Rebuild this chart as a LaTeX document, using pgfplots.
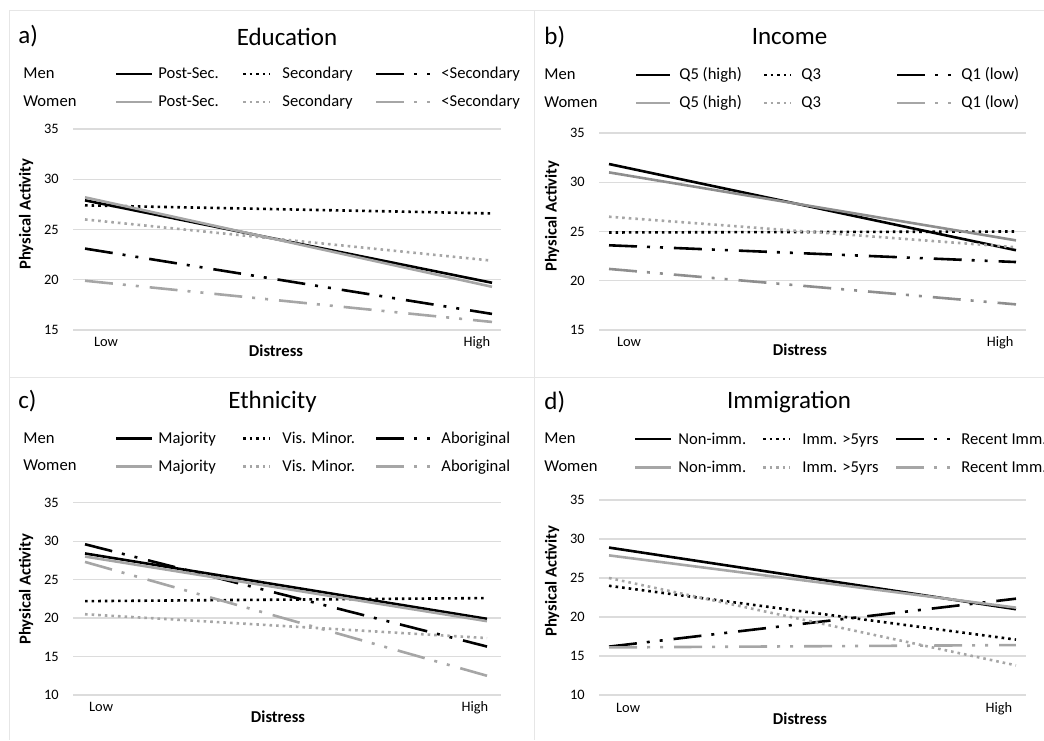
\documentclass[border=0pt]{standalone}
\usepackage{fontspec}
\setmainfont{Carlito}
\usepackage{pgfplots}
\pgfplotsset{compat=1.18}
\usepackage{pgfplotstable}

\definecolor{wgray}{HTML}{A6A6A6}
\definecolor{wgrayd}{HTML}{8E8E8E}
\definecolor{gridc}{HTML}{DCDCDC}
\definecolor{framec}{HTML}{E6E6E6}
\newcommand\fs[1]{\fontsize{#1}{#1}\selectfont}

\tikzset{
 solidl/.style={line width=1.3pt},
 dotl/.style={line width=1.3pt, dash pattern=on 1.3pt off 2pt},
 ddotl/.style={line width=1.3pt, dash pattern=on 14pt off 5pt on 1.5pt off 5pt on 1.5pt off 5.5pt},
}

\pgfplotstableread{
x  mA   mB   mC   wA   wB   wC
0  27.9 27.4 23.1 28.2 26.0 19.9
1  19.7 26.6 16.6 19.3 21.9 15.8
}\tabA
\pgfplotstableread{
x  mA    mB   mC   wA   wB   wC
0  31.85 24.9 23.6 31.0 26.5 21.2
1  23.1  25.0 21.9 24.1 23.4 17.6
}\tabB
\pgfplotstableread{
x  mA   mB   mC   wA   wB   wC
0  28.4 22.2 29.6 28.0 20.5 27.3
1  19.9 22.6 16.3 19.6 17.4 12.5
}\tabC
\pgfplotstableread{
x  mA   mB   mC    wA   wB   wC
0  28.9 24.0 16.2  27.9 25.0 16.1
1  21.0 17.1 22.35 21.2 13.8 16.4
}\tabD

\pgfplotsset{panel/.style={
  scale only axis, anchor=south west,
  axis line style={draw=none},
  ymajorgrids, grid style={gridc, line width=0.6pt},
  major tick length=0pt, tick style={draw=none},
  xticklabels={Low,High},
  tick label style={font=\fs{7.2}},
  /pgf/number format/assume math mode=true,
  yticklabel style={anchor=east,inner sep=0pt,xshift=-7pt},
  xticklabel style={anchor=base,inner sep=0pt},
  clip=false}}

\begin{document}
\begin{tikzpicture}
\path[use as bounding box] (0,0) rectangle (522pt,370pt);

% ---------- a) Education
\begin{axis}[panel, at={(36.5pt,205pt)}, width=214pt, height=100.5pt,
  xmin=-0.0295, xmax=1.0221, ymin=15, ymax=35, ytick={15,20,...,35},
  xtick={0.0516,0.963}, xticklabel style={yshift=-8.5pt}]
\addplot[black, solidl] table[x=x,y=mA]{\tabA};
\addplot[black, dotl] table[x=x,y=mB]{\tabA};
\addplot[black, ddotl] table[x=x,y=mC]{\tabA};
\addplot[wgray, solidl] table[x=x,y=wA]{\tabA};
\addplot[wgray, dotl] table[x=x,y=wB]{\tabA};
\addplot[wgray, ddotl] table[x=x,y=wC]{\tabA};
\end{axis}

% ---------- b) Income
\begin{axis}[panel, at={(299.5pt,205pt)}, width=213.5pt, height=98.5pt,
  xmin=-0.0246, xmax=1.0246, ymin=15, ymax=35, ytick={15,20,...,35},
  xtick={0.049,0.961}, xticklabel style={yshift=-8.3pt}]
\addplot[black, solidl] table[x=x,y=mA]{\tabB};
\addplot[black, dotl] table[x=x,y=mB]{\tabB};
\addplot[black, ddotl] table[x=x,y=mC]{\tabB};
\addplot[wgrayd, solidl] table[x=x,y=wA]{\tabB};
\addplot[wgray, dotl] table[x=x,y=wB]{\tabB};
\addplot[wgrayd, ddotl] table[x=x,y=wC]{\tabB};
\end{axis}

% ---------- c) Ethnicity
\begin{axis}[panel, at={(36.5pt,22.5pt)}, width=214pt, height=96.15pt,
  xmin=-0.0299, xmax=1.0348, ymin=10, ymax=35, ytick={10,15,...,35},
  xtick={0.04,0.97}, xticklabel style={yshift=-8.3pt}]
\addplot[black, solidl] table[x=x,y=mA]{\tabC};
\addplot[black, dotl] table[x=x,y=mB]{\tabC};
\addplot[black, ddotl] table[x=x,y=mC]{\tabC};
\addplot[wgray, solidl] table[x=x,y=wA]{\tabC};
\addplot[wgray, dotl] table[x=x,y=wB]{\tabC};
\addplot[wgray, ddotl] table[x=x,y=wC]{\tabC};
\end{axis}

% ---------- d) Immigration
\begin{axis}[panel, at={(299.5pt,22.5pt)}, width=213.5pt, height=97.5pt,
  xmin=-0.0246, xmax=1.0246, ymin=10, ymax=35, ytick={10,15,...,35},
  xtick={0.047,0.958}, xticklabel style={yshift=-8.8pt}]
\addplot[black, solidl] table[x=x,y=mA]{\tabD};
\addplot[black, dotl] table[x=x,y=mB]{\tabD};
\addplot[black, ddotl] table[x=x,y=mC]{\tabD};
\addplot[wgray, solidl] table[x=x,y=wA]{\tabD};
\addplot[wgray, dotl] table[x=x,y=wB]{\tabD};
\addplot[wgray, ddotl] table[x=x,y=wC]{\tabD};
\end{axis}

\begin{scope}[yshift=370pt, x=0.5pt, y=-0.5pt]
% frames
\draw[framec, line width=0.5pt] (9,11) -- (1044,11);
\draw[framec, line width=0.5pt] (9,11) -- (9,740);
\draw[framec, line width=0.5pt] (534.5,11) -- (534.5,740);
\draw[framec, line width=0.5pt] (9,378) -- (1044,378);

% ===== panel a texts
\node[anchor=base west, font=\fs{12.5}, inner sep=0pt] at (18,44) {a)};
\node[anchor=base, font=\fs{12.5}, inner sep=0pt] at (287,46) {Education};
\node[anchor=base west, font=\fs{8.3}, inner sep=0pt] at (23,79) {Men};
\node[anchor=base west, font=\fs{8.3}, inner sep=0pt] at (23,107) {Women};
\draw[black, solidl] (116,74) -- (152,74);
\draw[black, dotl] (243,74) -- (270,74);
\draw[black, ddotl] (376,74) -- (438,74);
\draw[wgray, solidl] (116,102) -- (152,102);
\draw[wgray, dotl] (243,102) -- (270,102);
\draw[wgray, ddotl] (376,102) -- (438,102);
\begin{scope}[every node/.style={anchor=base west, font=\fs{8.3}, inner sep=0pt}]
\node at (158,79) {Post-Sec.};
\node at (282,79) {Secondary};
\node at (441,79) {<Secondary};
\node at (158,107) {Post-Sec.};
\node at (282,107) {Secondary};
\node at (441,107) {<Secondary};
\end{scope}
\node[rotate=90, font=\bfseries\fs{8.3}, inner sep=0pt] at (26,214) {Physical Activity};
\node[anchor=base, font=\bfseries\fs{8.3}, inner sep=0pt] at (276,357) {Distress};

% ===== panel b texts
\node[anchor=base west, font=\fs{12.5}, inner sep=0pt] at (544,45) {b)};
\node[anchor=base, font=\fs{12.5}, inner sep=0pt] at (789.5,45) {Income};
\node[anchor=base west, font=\fs{8.3}, inner sep=0pt] at (544,80) {Men};
\node[anchor=base west, font=\fs{8.3}, inner sep=0pt] at (544,108) {Women};
\draw[black, solidl] (636,75) -- (670,75);
\draw[black, dotl] (764,75) -- (791,75);
\draw[black, ddotl] (897,75) -- (959,75);
\draw[wgray, solidl] (636,103) -- (670,103);
\draw[wgray, dotl] (764,103) -- (791,103);
\draw[wgray, ddotl] (897,103) -- (959,103);
\begin{scope}[every node/.style={anchor=base west, font=\fs{8.3}, inner sep=0pt}]
\node at (679,80) {Q5 (high)};
\node at (801,80) {Q3};
\node at (961,80) {Q1 (low)};
\node at (679,108) {Q5 (high)};
\node at (801,108) {Q3};
\node at (961,108) {Q1 (low)};
\end{scope}
\node[rotate=90, font=\bfseries\fs{8.3}, inner sep=0pt] at (552,216) {Physical Activity};
\node[anchor=base, font=\bfseries\fs{8.3}, inner sep=0pt] at (800,356) {Distress};

% ===== panel c texts
\node[anchor=base west, font=\fs{12.5}, inner sep=0pt] at (18,409) {c)};
\node[anchor=base, font=\fs{12.5}, inner sep=0pt] at (272.5,409) {Ethnicity};
\node[anchor=base west, font=\fs{8.3}, inner sep=0pt] at (23,443) {Men};
\node[anchor=base west, font=\fs{8.3}, inner sep=0pt] at (23,470.5) {Women};
\draw[black, solidl] (116,438.3) -- (152,438.3);
\draw[black, dotl] (243,438.3) -- (270,438.3);
\draw[black, ddotl] (376,438.3) -- (438,438.3);
\draw[wgray, solidl] (116,466.7) -- (152,466.7);
\draw[wgray, dotl] (243,466.7) -- (270,466.7);
\draw[wgray, ddotl] (376,466.7) -- (438,466.7);
\begin{scope}[every node/.style={anchor=base west, font=\fs{8.3}, inner sep=0pt}]
\node at (158,443) {Majority};
\node at (282,443) {Vis. Minor.};
\node at (441,443) {Aboriginal};
\node at (158,471) {Majority};
\node at (282,471) {Vis. Minor.};
\node at (441,471) {Aboriginal};
\end{scope}
\node[rotate=90, font=\bfseries\fs{8.3}, inner sep=0pt] at (26,589) {Physical Activity};
\node[anchor=base, font=\bfseries\fs{8.3}, inner sep=0pt] at (278,722) {Distress};

% ===== panel d texts
\node[anchor=base west, font=\fs{12.5}, inner sep=0pt] at (544,410) {d)};
\node[anchor=base, font=\fs{12.5}, inner sep=0pt] at (789,409) {Immigration};
\node[anchor=base west, font=\fs{8.3}, inner sep=0pt] at (544,443.5) {Men};
\node[anchor=base west, font=\fs{8.3}, inner sep=0pt] at (544,471) {Women};
\draw[black, solidl] (635,439) -- (671,439);
\draw[black, dotl] (763,439) -- (790,439);
\draw[black, ddotl] (896,439) -- (958,439);
\draw[wgray, solidl] (635,467.3) -- (671,467.3);
\draw[wgray, dotl] (763,467.3) -- (790,467.3);
\draw[wgray, ddotl] (896,467.3) -- (958,467.3);
\begin{scope}[every node/.style={anchor=base west, font=\fs{8.3}, inner sep=0pt}]
\node at (678,444) {Non-imm.};
\node at (802,444) {Imm. >5yrs};
\node at (961,444) {Recent Imm.};
\node at (678,472) {Non-imm.};
\node at (802,472) {Imm. >5yrs};
\node at (961,472) {Recent Imm.};
\end{scope}
\node[rotate=90, font=\bfseries\fs{8.3}, inner sep=0pt] at (552,581) {Physical Activity};
\node[anchor=base, font=\bfseries\fs{8.3}, inner sep=0pt] at (800,724) {Distress};
\end{scope}
\end{tikzpicture}
\end{document}
